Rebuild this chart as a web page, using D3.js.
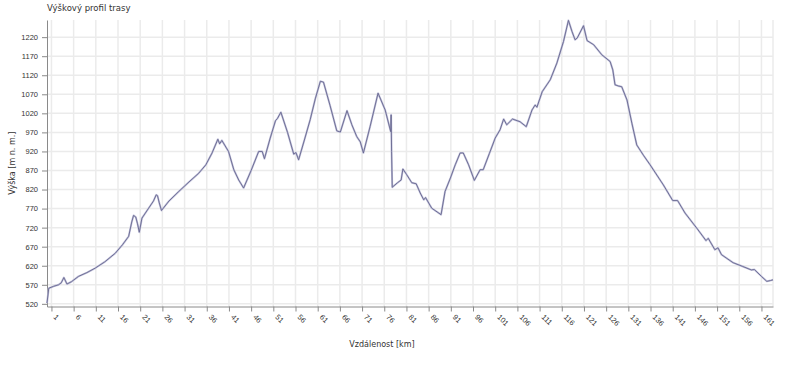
<!DOCTYPE html>
<html>
<head>
<meta charset="utf-8">
<script src="https://cdn.jsdelivr.net/npm/d3@7"></script>
<style>
  body { margin: 0; background: #fff; }
  svg { display: block; font-family: "DejaVu Sans", sans-serif; }
  .tick text { fill: #333; }
</style>
</head>
<body>
<div id="profile"></div>
<script>
// distance along the route [km]
var distances = [0, 0.4, 1.5, 2.6, 3.2, 3.8, 4.5, 5.5, 7.1, 9, 10.9, 13, 15.4, 17, 18.4, 19.1, 19.5, 20, 20.4, 20.8,
  21.4, 22.9, 24.0, 24.6, 24.9, 25.3, 25.8, 27.5, 29.7, 32, 34.2, 35.8, 37.2, 38.5, 38.9, 39.4, 40.9, 42.1, 43.2, 44.3,
  46, 47.7, 48.5, 49.0, 50.3, 51.5, 51.9, 52.7, 54.2, 55.6, 56.1, 56.7, 58, 59.3, 60.5, 61.6, 62.3, 63.8, 65.3, 66.1,
  67.6, 68.7, 69.8, 70.6, 71.3, 72.8, 74.6, 76.2, 76.4, 77.45, 77.55, 77.65, 77.8, 79, 79.8, 80.2, 81.0, 82.2, 83.2, 84.1,
  84.9, 85.3, 86.7, 88.8, 89.7, 90.9, 92, 93.1, 93.8, 95.0, 96.3, 97.6, 98.3, 99.7, 101.0, 102.1, 102.9, 103.6, 104.9, 106.6,
  108.0, 109.3, 110.0, 110.4, 111.6, 113.4, 114.9, 116.4, 117.5, 118.3, 119.0, 119.5, 120.9, 121.7, 123.2, 125.0, 126.9, 127.5, 128.0, 128.7,
  129.5, 130.7, 131.8, 132.9, 134.4, 135.9, 138.9, 141.0, 142.1, 143.8, 146.4, 148.5, 149.0, 150.5, 151.2, 152.0, 154.6, 156.8, 158.7, 159.4,
  161.0, 162.2, 163.0, 163.6];

// elevation [m n. m.]
var elevations = [522, 561, 566, 570, 575, 589, 572, 578, 592, 602, 614, 630, 653, 675, 697, 735, 752, 748, 730, 708,
  745, 771, 790, 806, 804, 785, 765, 790, 815, 840, 863, 885, 916, 952, 940, 949, 920, 872, 845, 824,
  870, 920, 920, 901, 955, 1001, 1006, 1023, 970, 913, 917, 898, 950, 1003, 1060, 1104, 1102, 1040, 974, 971,
  1027, 990, 959, 945, 916, 985, 1073, 1029, 1020, 972, 1016, 920, 826, 838, 845, 874, 860, 838, 835, 811,
  793, 799, 771, 754, 815, 850, 885, 916, 916, 885, 844, 872, 872, 915, 955, 977, 1005, 990, 1005, 998,
  985, 1029, 1042, 1036, 1077, 1108, 1152, 1209, 1264, 1235, 1213, 1218, 1250, 1211, 1200, 1174, 1156, 1134, 1095, 1092,
  1090, 1055, 994, 937, 910, 885, 832, 791, 791, 758, 719, 686, 692, 662, 667, 649, 628, 618, 609, 610,
  592, 579, 581, 583];

var xTicks = d3.range(1, 162, 5);
var yTicks = d3.range(520, 1221, 50);

var width = 800;
var height = 367;

var plotLeft = 47;
var plotRight = 773;
var plotTop = 20;
var plotBottom = 306.5;

var svg = d3
  .select("#profile")
  .append("svg")
  .attr("width", width)
  .attr("height", height);

var xScale = d3.scaleLinear().domain([0, 163.6]).range([plotLeft, plotRight]);
var yScale = d3.scaleLinear().domain([513, 1265]).range([plotBottom, plotTop]);

// grid
svg
  .append("g")
  .selectAll("line.vgrid")
  .data(xTicks)
  .enter()
  .append("line")
  .attr("x1", function(d) { return xScale(d); })
  .attr("x2", function(d) { return xScale(d); })
  .attr("y1", plotTop)
  .attr("y2", plotBottom)
  .attr("stroke", "#ebebeb")
  .attr("stroke-width", 1.5);

svg
  .append("g")
  .selectAll("line.hgrid")
  .data(yTicks)
  .enter()
  .append("line")
  .attr("x1", plotLeft)
  .attr("x2", plotRight)
  .attr("y1", function(d) { return yScale(d); })
  .attr("y2", function(d) { return yScale(d); })
  .attr("stroke", "#ebebeb")
  .attr("stroke-width", 1.5);

svg
  .append("line")
  .attr("x1", plotRight)
  .attr("x2", plotRight)
  .attr("y1", plotTop)
  .attr("y2", plotBottom)
  .attr("stroke", "#ebebeb")
  .attr("stroke-width", 1.5);

// axes
var xAxis = d3.axisBottom(xScale).tickValues(xTicks).tickSize(5).tickSizeOuter(0).tickFormat(d3.format("d"));
var yAxis = d3.axisLeft(yScale).tickValues(yTicks).tickSize(5).tickSizeOuter(0).tickFormat(d3.format("d"));

var gx = svg
  .append("g")
  .attr("transform", "translate(0," + plotBottom + ")")
  .call(xAxis);
gx.selectAll("path, line").attr("stroke", "#8a8a8a");
gx.selectAll("text")
  .attr("font-size", 7.5)
  .attr("text-anchor", "start")
  .attr("dy", null)
  .attr("y", 0)
  .attr("x", 0)
  .attr("transform", "translate(1,11) rotate(45)");

var gy = svg
  .append("g")
  .attr("transform", "translate(" + plotLeft + ",0)")
  .call(yAxis);
gy.selectAll("path, line").attr("stroke", "#8a8a8a");
gy.selectAll("text").attr("font-size", 7.5).attr("x", -9);

// elevation line
var line = d3
  .line()
  .x(function(d, i) { return xScale(distances[i]); })
  .y(function(d) { return yScale(d); });

svg
  .append("path")
  .datum(elevations)
  .attr("d", line)
  .attr("fill", "none")
  .attr("stroke", "#c4c4dc")
  .attr("stroke-width", 2)
  .attr("stroke-linejoin", "round");

svg
  .append("path")
  .datum(elevations)
  .attr("d", line)
  .attr("fill", "none")
  .attr("stroke", "#66668f")
  .attr("stroke-width", 0.9)
  .attr("stroke-linejoin", "round");

// titles
svg
  .append("text")
  .attr("x", 47)
  .attr("y", 11)
  .attr("font-size", 8.5)
  .attr("fill", "#333")
  .text("Výškový profil trasy");

svg
  .append("text")
  .attr("x", 382)
  .attr("y", 347)
  .attr("text-anchor", "middle")
  .attr("font-size", 8)
  .attr("fill", "#333")
  .text("Vzdálenost [km]");

svg
  .append("text")
  .attr("transform", "translate(15," + (plotTop + plotBottom) / 2 + ") rotate(-90)")
  .attr("text-anchor", "middle")
  .attr("font-size", 8)
  .attr("fill", "#333")
  .text("Výška [m n. m.]");
</script>
</body>
</html>
